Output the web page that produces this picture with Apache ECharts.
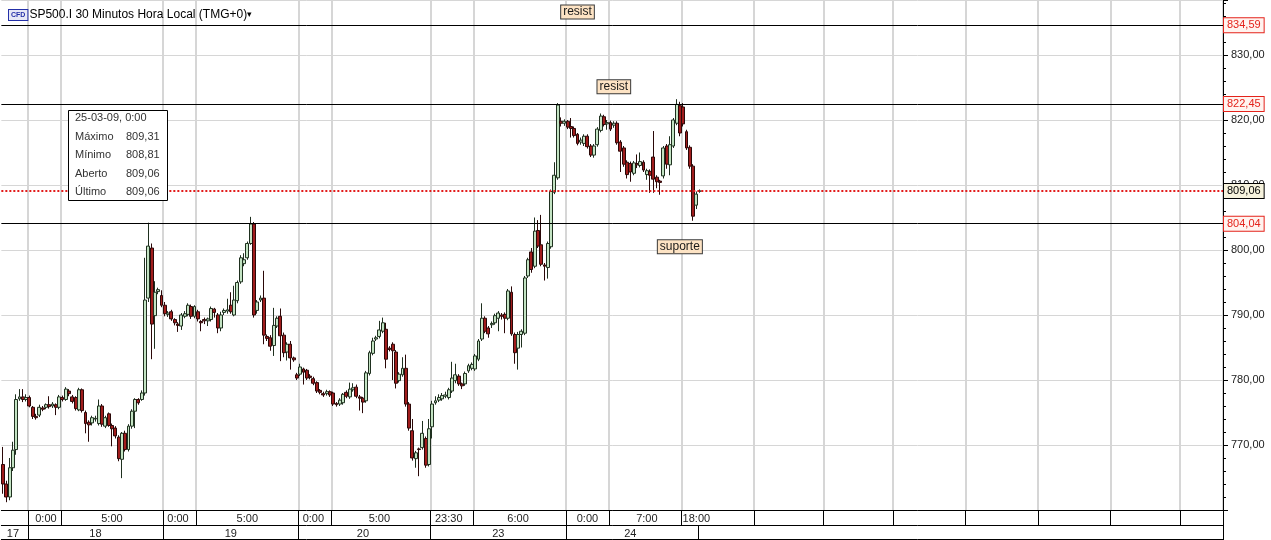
<!DOCTYPE html>
<html><head><meta charset="utf-8">
<script src="https://cdn.jsdelivr.net/npm/echarts@6/dist/echarts.min.js"></script>
<style>html,body{margin:0;padding:0;background:#fff}#c{width:1271px;height:540px}</style>
</head><body><div id="c"></div>
<script>
// [open, close, low, high] per 30-minute bar
const candles = [
[767,764,762.5,769.7],[764,762,761.2,764.5],[762,766.5,761.5,768],[766.5,769.2,766,770.5],[769.3,777,768.5,777.8],
[777.1,777.4,776.8,778.6],[777.4,777.0,776.6,778.6],[777.0,777.3,776.7,777.8],[777.3,776.0,775.8,777.6],[775.8,774.4,774.0,776.0],
[774.4,774.2,773.9,774.8],[774.6,775.8,774.3,776.2],[775.7,775.5,775.2,776.0],[775.8,776.2,775.5,776.4],[776.2,775.9,775.6,777.5],
[776.0,776.3,775.7,776.6],[776.2,775.8,774.6,776.4],[775.8,777.4,775.5,777.7],[777.3,777.0,776.7,777.6],[777.0,778.6,776.8,778.9],
[778.3,777.9,777.5,778.6],[777.4,776.7,776.4,777.7],[777.3,775.6,775.3,777.5],[775.4,778.5,775.2,778.8],[778.5,775.3,775.0,778.7],
[775.0,773.3,771.8,775.3],[773.5,773.1,770.5,773.8],[773.4,774.2,773.0,774.5],[774.0,774.1,773.6,774.5],[773.3,776.0,773.0,777.0],
[776.0,773.2,772.8,776.3],[772.9,774.2,772.6,774.5],[774.8,773.0,772.8,775.0],[773.0,772.5,769.8,773.3],[772.6,771.4,771.0,772.9],
[771.2,767.9,767.5,771.5],[767.8,771.8,764.9,772.0],[771.8,769.3,769.0,772.2],[769.3,772.9,769.0,773.2],[772.9,775.2,772.5,775.5],
[775.2,777.0,772.6,777.2],[777.0,776.5,776.2,777.2],[777.0,778.0,776.8,778.4],[778.0,792.3,777.6,798.8],[792.6,800.6,792.0,804.2],
[800.3,788.6,783.2,801.0],[789.9,793.5,784.8,795.2],[793.6,793.9,793.2,794.2],[793.0,791.5,791.2,793.8],[791.5,790.2,789.8,792.0],
[790.1,790.3,789.7,790.6],[790.5,789.4,789.1,790.8],[789.3,788.8,788.4,789.5],[788.6,788.4,787.4,788.9],[788.3,790.0,787.7,790.3],
[789.8,790.2,789.5,790.6],[790.1,791.5,789.8,791.8],[791.3,789.8,789.4,791.6],[789.8,791.3,789.5,791.5],[790.5,789.4,789.0,790.8],
[789.0,788.8,787.5,789.2],[789.3,789.1,788.6,789.6],[789.1,789.4,788.3,789.6],[789.3,791.0,789.0,791.3],[790.9,790.4,789.6,791.1],
[790.0,788.0,787.2,790.3],[788.0,790.0,787.5,790.5],[790.4,790.7,790.0,791.0],[790.6,790.8,790.2,792.5],[791.5,790.5,790.2,793.5],
[790.0,792.3,789.8,794.5],[792.2,795.0,791.8,795.3],[795.1,798.8,794.8,799.2],[797.9,798.5,797.5,799.5],[798.8,801.0,798.5,801.3],
[801.0,804.0,800.8,805.1],[804.0,790.0,789.6,804.3],[790.7,792.0,790.2,792.3],[792.3,792.6,792.0,793.0],[792.6,786.9,785.5,796.8],
[786.7,786.4,786.0,787.0],[786.5,785.2,784.5,786.9],[785.3,788.4,783.7,791.1],[788.3,789.5,788.0,789.8],[789.8,786.8,782.9,791.0],
[786.9,784.2,783.5,787.3],[784.3,785.5,783.0,785.8],[785.5,783.4,781.6,786.0],[783.4,783.1,782.8,783.6],[780.8,780.3,780.0,781.1],
[780.9,782.0,780.6,782.5],[781.7,781.2,779.3,781.9],[781.5,780.3,780.0,781.7],[780.6,780.4,780.1,780.9],[780.2,779.5,779.2,780.5],
[779.6,778.3,778.0,779.8],[778.4,778.1,777.8,778.6],[777.9,777.7,777.4,778.2],[777.9,778.2,777.6,778.5],[778.2,777.7,777.4,778.4],
[778.0,776.3,776.0,778.2],[776.4,776.2,775.9,776.6],[776.3,776.9,776.0,777.2],[776.5,777.8,776.2,778.0],[778.1,777.5,777.2,778.4],
[777.4,778.6,777.1,779.6],[778.5,778.8,778.2,779.5],[778.9,777.5,777.2,779.3],[777.4,777.2,775.3,777.7],[777.2,776.6,774.9,777.4],
[776.8,781.1,776.5,781.4],[781.0,784.2,780.7,784.5],[784.1,786.0,783.8,786.5],[786.3,786.5,786.0,786.8],[786.7,787.7,786.4,789.1],
[787.5,788.8,787.2,789.6],[787.8,783.2,781.8,788.8],[784.9,784.7,784.4,785.2],[785.5,784.5,780.0,785.8],[784.3,779.5,778.7,784.6],
[779.9,780.9,779.6,781.2],[780.8,781.8,780.5,783.5],[781.8,776.3,775.9,783.9],[776.3,772.6,772.2,776.6],[772.2,768.0,767.6,774.0],
[767.9,768.8,766.5,769.1],[769.4,769.3,765.2,769.6],[769.6,771.8,769.3,773.7],[771.0,766.9,766.5,771.3],[767.0,772.5,766.7,774.0],
[772.8,776.3,771.0,776.8],[776.5,776.8,776.2,777.5],[776.9,777.3,776.6,777.8],[777.1,777.6,776.8,778.0],[777.5,777.7,777.2,778.2],
[777.3,778.5,777.0,778.8],[778.3,780.3,778.0,782.8],[779.9,780.8,779.5,782.5],[780.6,779.4,779.1,780.9],[779.4,779.1,778.6,779.6],
[779.4,781.0,779.1,781.3],[781.4,782.2,781.1,782.5],[781.8,782.4,781.5,782.7],[781.7,783.7,781.4,784.0],[783.2,786.0,782.9,786.3],
[786.3,789.5,786.0,791.8],[789.5,787.5,787.2,789.8],[788.0,787.1,786.5,788.3],[788.5,788.7,788.0,789.0],[788.8,789.9,788.5,790.2],
[789.5,790.3,787.5,790.6],[790.0,789.8,789.3,790.3],[790.1,789.5,787.2,790.4],[789.5,793.7,789.2,794.0],[793.5,787.1,786.8,794.4],
[787.0,784.2,782.5,787.3],[784.9,787.0,781.6,787.4],[787.0,787.5,785.0,787.8],[787.2,795.7,786.9,796.0],[796.0,798.5,795.7,798.8],
[799.7,797.0,796.5,800.3],[797.5,802.9,797.2,805.0],[803.0,800.6,800.3,804.6],[800.8,797.8,797.5,805.4],[797.7,797.5,795.3,798.0],
[797.3,801.0,795.6,801.3],[800.5,809.0,800.2,809.3],[808.9,811.5,808.6,813.5],[811.1,822.3,810.8,822.6],[819.8,819.5,819.0,820.4],
[819.5,819.8,819.1,820.1],[819.8,818.9,818.6,820.0],[819.0,818.7,817.3,820.3],[818.7,817.6,817.3,819.0],[817.8,816.4,816.1,818.0],
[816.6,816.9,816.2,817.3],[816.4,817.5,816.0,817.8],[817.5,815.9,815.6,817.8],[816.0,814.6,814.3,816.3],[814.6,816.0,814.2,816.3],
[816.2,818.6,815.9,818.9],[818.4,820.6,818.1,821.0],[820.5,819.3,819.0,820.8],[819.4,819.6,818.5,820.0],[819.6,818.6,818.3,819.9],
[819.2,819.5,818.8,819.8],[819.5,816.5,816.2,819.8],[816.6,815.2,812.0,816.9],[815.7,813.2,812.8,816.0],[813.5,811.6,811.0,813.8],
[813.3,812.0,810.5,813.6],[811.8,813.4,811.5,813.7],[813.3,813.1,812.6,814.7],[813.0,813.6,812.7,815.0],[813.5,812.3,812.0,813.8],
[811.6,812.2,810.8,812.5],[812.1,811.5,808.8,812.4],[814.3,810.9,808.8,818.3],[811.2,810.5,809.5,811.5],[810.6,810.4,808.5,810.8],
[811.4,815.7,811.0,816.0],[816.0,813.2,812.5,816.3],[813.1,816.2,811.5,817.5],[816.0,820.0,815.7,820.3],[819.5,822.4,819.2,823.2],
[822.2,818.0,817.5,822.8],[822.0,819.4,819.0,822.6],[818.2,815.7,815.4,818.5],[815.8,812.9,812.5,816.1],[812.9,805.2,804.5,813.2],
[806.9,808.6,806.3,809.0],[809.06,809.06,808.81,809.31]
];
const slotCount = 370;                       // bar slots across the time axis (incl. future)
const timeBounds = [8,18,49,59,90,100,130,143,171,184,206,228,249,270,292,314,336,357];
const timeLabels = [[13,'0:00'],[33,'5:00'],[53,'0:00'],[74,'5:00'],[94,'0:00'],[114,'5:00'],[135,'23:30'],[156,'6:00'],[177,'0:00'],[195,'7:00'],[210,'18:00']];
const dayBounds = [8,49,90,130,171,211];
const dayLabels = [[3,'17'],[28,'18'],[69,'19'],[109,'20'],[150,'23'],[190,'24']];
const levels = [834.59, 822.45, 804.04];
const lastPrice = 809.06;
const notes = [[174, 836.6, 'resist'], [185, 825.1, 'resist'], [205, 800.5, 'suporte']];
const infoTitle = '25-03-09, 0:00';
const infoRows = [['Máximo','809,31'],['Mínimo','808,81'],['Aberto','809,06'],['Último','809,06']];
const yMin = 760, yMax = 838.46, yStep = 10;

const FONT = '"Liberation Sans", Arial, sans-serif';
const slots = Array.from({length: slotCount}, (_, i) => String(i));
const timeSet = new Set(timeBounds);
const daySet = new Set(dayBounds);
const timeMap = Object.fromEntries(timeLabels);
const dayMap = Object.fromEntries(dayLabels);
const fmt = v => v.toFixed(2).replace('.', ',');

const chart = echarts.init(document.getElementById('c'), null, {renderer: 'canvas'});
const infoText = '{h|' + infoTitle + '}\n' + infoRows.map(r => '{k|' + r[0] + '}{v|' + r[1] + '}').join('\n');
const txt = (size, color, extra) => Object.assign({fontSize: size, color: color, fontWeight: 'normal', fontFamily: FONT}, extra || {});

const levelLines = levels.map(v => ({
  yAxis: v,
  lineStyle: {color: '#000', width: 1, type: 'solid'},
  label: {show: true, position: 'end', distance: 1, formatter: fmt(v), color: '#e4231b',
    backgroundColor: '#fff3ef', borderColor: '#e4231b', borderWidth: 1, padding: [2, 3, 1, 3],
    fontSize: 11, fontFamily: FONT}
}));
levelLines.push({
  yAxis: lastPrice,
  lineStyle: {color: '#e21b1b', width: 2, type: [2, 2]},
  label: {show: true, position: 'end', distance: 1, formatter: fmt(lastPrice), color: '#000',
    backgroundColor: '#f6f2dc', borderColor: '#000', borderWidth: 1, padding: [2, 3, 1, 3],
    fontSize: 11, fontFamily: FONT}
});

chart.setOption({
  animation: false,
  backgroundColor: '#fff',
  textStyle: {fontFamily: FONT},
  title: [
    {left: 4, top: 4, text: '{cfd|CFD}{t|SP500.I 30 Minutos Hora Local (TMG+0)}{a|▾}',
     textStyle: {fontWeight: 'normal', rich: {
       cfd: txt(7, '#2430a8', {fontWeight: 'bold', borderColor: '#2430a8', borderWidth: 1,
             backgroundColor: '#e6e8f6', padding: [2, 2, 1, 2]}),
       t: txt(12, '#000', {padding: [0, 0, 0, 2]}),
       a: txt(9, '#000')
     }}},
    {left: 68, top: 106, text: infoText, backgroundColor: '#fff', borderColor: '#000', borderWidth: 1,
     padding: [3, 8, 3, 7],
     textStyle: {fontWeight: 'normal', rich: {
       h: txt(11, '#333', {lineHeight: 18.5}),
       k: txt(11, '#333', {lineHeight: 18.5, width: 51}),
       v: txt(11, '#333', {lineHeight: 18.5})
     }}}
  ],
  grid: {left: 0, right: 48, top: 0, bottom: 30, containLabel: false},
  xAxis: [
    {type: 'category', data: slots, boundaryGap: true, position: 'bottom',
     axisLine: {show: true, onZero: false, lineStyle: {color: '#000', width: 1}},
     axisTick: {show: true, interval: i => timeSet.has(i), length: 15, lineStyle: {color: '#000', width: 1}},
     axisLabel: {show: true, interval: 0, margin: 3, fontSize: 11, color: '#222',
       formatter: (v, i) => timeMap[i] || ''},
     splitLine: {show: true, interval: i => timeSet.has(i), lineStyle: {color: '#d6d6d6', width: 2}}},
    {type: 'category', data: slots, boundaryGap: true, position: 'bottom', offset: 15,
     axisLine: {show: true, onZero: false, lineStyle: {color: '#000', width: 1}},
     axisTick: {show: true, interval: i => daySet.has(i), length: 15, lineStyle: {color: '#000', width: 1}},
     axisLabel: {show: true, interval: 0, margin: 3, fontSize: 11, color: '#222',
       formatter: (v, i) => dayMap[i] || ''},
     splitLine: {show: false}},
    {type: 'category', data: slots, boundaryGap: true, position: 'bottom', offset: 29,
     axisLine: {show: true, onZero: false, lineStyle: {color: '#000', width: 1}},
     axisTick: {show: false}, axisLabel: {show: false}, splitLine: {show: false}}
  ],
  yAxis: {
    type: 'value', position: 'right', min: yMin, max: yMax, interval: yStep, scale: true,
    axisLine: {show: true, lineStyle: {color: '#000', width: 1}},
    axisTick: {show: true, length: 5, lineStyle: {color: '#000'}},
    minorTick: {show: true, splitNumber: 5, length: 3, lineStyle: {color: '#000'}},
    axisLabel: {margin: 8, fontSize: 11, color: '#222',
      formatter: v => (Math.abs(v % 10) < 1e-6 && v > yMin) ? fmt(v) : ''},
    splitLine: {show: true, lineStyle: {color: '#d6d6d6', width: 1}}
  },
  series: [{
    type: 'candlestick',
    xAxisIndex: 0,
    data: candles,
    barWidth: 3.4,
    itemStyle: {color: '#c3e3c3', color0: '#a01c1c', borderColor: '#1f301f', borderColor0: '#2a0808', borderWidth: 1},
    markLine: {silent: true, symbol: ['none', 'none'], animation: false, data: levelLines},
    markPoint: {silent: true, animation: false,
      data: notes.map(n => ({coord: [n[0], n[1]], value: n[2], symbol: 'rect', symbolSize: 0,
        label: {show: true, position: 'inside', formatter: n[2], color: '#1a1a1a', fontSize: 12,
          backgroundColor: '#fde3c4', borderColor: '#3a3a3a', borderWidth: 1, padding: [1, 2, 0, 2], fontFamily: FONT}}))}
  }]
});
</script>
</body></html>
